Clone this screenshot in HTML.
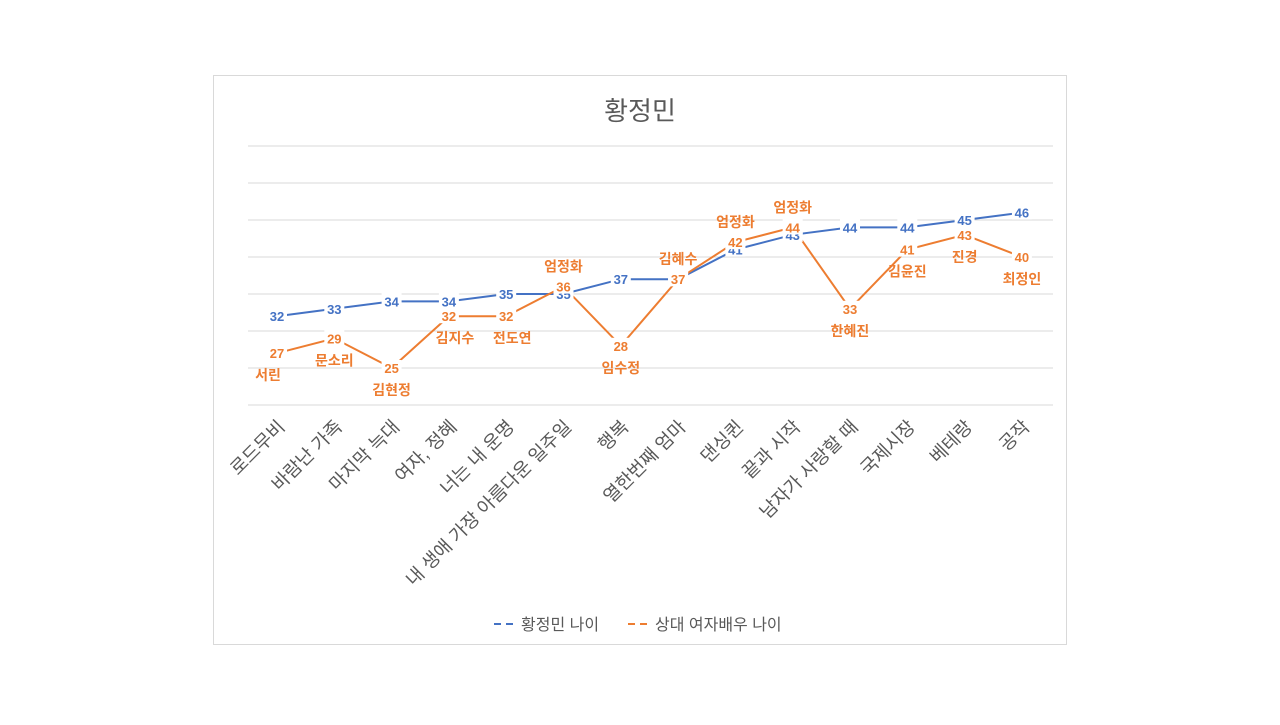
<!DOCTYPE html>
<html><head><meta charset="utf-8"><style>
body{margin:0;width:1280px;height:720px;background:#fff;font-family:"Liberation Sans","Noto Sans CJK KR",sans-serif;}
</style></head><body>
<svg width="1280" height="720" font-family="Liberation Sans, Noto Sans CJK KR, sans-serif">
<rect x="213.5" y="75.5" width="853" height="569" fill="#fff" stroke="#d9d9d9"/>
<text x="640" y="120" text-anchor="middle" font-size="26" fill="#595959">황정민</text>
<g id="grid"></g><g id="xl"></g><g id="lines"></g><g id="lbl"></g>
<g font-size="16" fill="#595959">
<line x1="494" y1="624" x2="518" y2="624" stroke="#4472c4" stroke-width="2" stroke-dasharray="7,5"/>
<text x="521" y="630">황정민 나이</text>
<line x1="628" y1="624" x2="652" y2="624" stroke="#ed7d31" stroke-width="2" stroke-dasharray="7,5"/>
<text x="655" y="630">상대 여자배우 나이</text>
</g>
</svg>
<script>
const categories=["로드무비","바람난 가족","마지막 늑대","여자, 정혜","너는 내 운명","내 생애 가장 아름다운 일주일","행복","열한번째 엄마","댄싱퀸","끝과 시작","남자가 사랑할 때","국제시장","베테랑","공작"];
const hwangAges=[32,33,34,34,35,35,37,37,41,43,44,44,45,46];
const actressAges=[27,29,25,32,32,36,28,37,42,44,33,41,43,40];
const actressNames=["서린","문소리","김현정","김지수","전도연","엄정화","임수정","김혜수","엄정화","엄정화","한혜진","김윤진","진경","최정인"];
const namePos=["below","below","below","below","below","above","below","above","above","above","below","below","below","below"];
const yTicks=[20,25,30,35,40,45,50,55];
const NS="http://www.w3.org/2000/svg";
const X=i=>277+i*57.3;
const Y=v=>405-(v-20)*(259/35);
function mk(t,a,p){const e=document.createElementNS(NS,t);for(const k in a)e.setAttribute(k,a[k]);p.appendChild(e);return e;}
const grid=document.getElementById('grid');
yTicks.forEach(v=>{const l=mk('line',{x1:248,x2:1053,y1:Y(v),y2:Y(v),stroke:'#d9d9d9','stroke-width':1},grid);

});
const xl=document.getElementById('xl');
categories.forEach((c,i)=>{const ax=X(i)+9,ay=428;const t=mk('text',{x:ax,y:ay,'text-anchor':'end','font-size':18.5,fill:'#595959',transform:`rotate(-45 ${ax} ${ay})`},xl);t.textContent=c;

});
const lines=document.getElementById('lines');
const p1=mk('polyline',{points:hwangAges.map((v,i)=>X(i)+','+Y(v)).join(' '),fill:'none',stroke:'#4472c4','stroke-width':2},lines);


const p2=mk('polyline',{points:actressAges.map((v,i)=>X(i)+','+Y(v)).join(' '),fill:'none',stroke:'#ed7d31','stroke-width':2},lines);


const lbl=document.getElementById('lbl');
function val(v,i,col,name){const x=X(i),y=Y(v);
const r=mk('rect',{x:x-10,y:y-8,width:20,height:15,fill:'#fff'},lbl);


const t=mk('text',{x:x,y:y+5,'text-anchor':'middle','font-size':13,'font-weight':'bold',fill:col},lbl);t.textContent=v;

}
hwangAges.forEach((v,i)=>val(v,i,'#4472c4','hwang'));
actressAges.forEach((v,i)=>{val(v,i,'#ed7d31','actress');
const y=namePos[i]==='above'?Y(v)-15:Y(v)+27;
const dx=i===0?-9:(i===3||i===4?6:0);
const t=mk('text',{x:X(i)+dx,y:y,'text-anchor':'middle','font-size':14,'font-weight':'bold',fill:'#ed7d31'},lbl);t.textContent=actressNames[i];

});
</script>
</body></html>
